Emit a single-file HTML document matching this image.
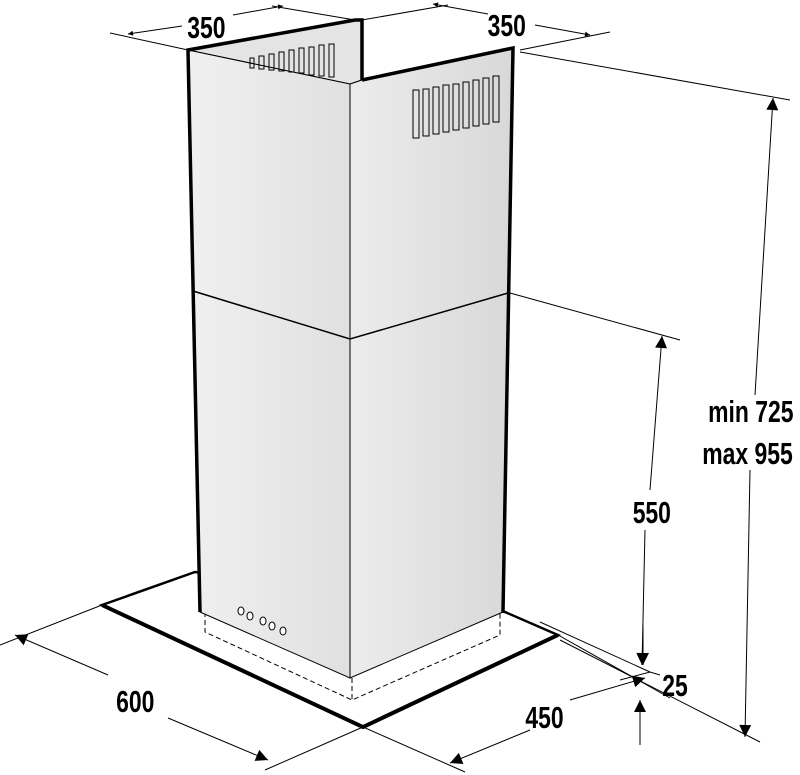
<!DOCTYPE html>
<html><head><style>
html,body{margin:0;padding:0;background:#fff}
svg{display:block}
text{font-family:"Liberation Sans",sans-serif;font-size:31px;font-weight:bold;fill:#000}
</style></head><body>
<svg width="800" height="775" viewBox="0 0 800 775" xmlns="http://www.w3.org/2000/svg">
<defs>
<linearGradient id="gl" x1="0" x2="1"><stop offset="0" stop-color="#f0f0f0"/><stop offset="1" stop-color="#e0e0e0"/></linearGradient>
<linearGradient id="gr" x1="0" x2="1"><stop offset="0" stop-color="#ececec"/><stop offset="1" stop-color="#d8d8d8"/></linearGradient>
<marker id="a" viewBox="0 0 10 10" refX="10" refY="5" markerWidth="26" markerHeight="12" markerUnits="userSpaceOnUse" orient="auto"><path d="M0,0L10,5L0,10z" fill="#000"/></marker>
<marker id="s" viewBox="0 0 10 10" refX="10" refY="5" markerWidth="16" markerHeight="5" markerUnits="userSpaceOnUse" orient="auto"><path d="M0,0L10,5L0,10z" fill="#000"/></marker>
</defs>
<!-- canopy -->
<path d="M102,605 L195,572 L505,612 L558,635 L363,727 Z" fill="#fff" stroke="#000" stroke-width="2.5"/>
<path d="M102,605 L363,727 L558,635" fill="none" stroke="#000" stroke-width="4"/>
<!-- dashed hidden -->
<path d="M205,612 L205,632 L352,700 L500,635 L500,612 M352,678 L352,700" fill="none" stroke="#000" stroke-width="1" stroke-dasharray="5,3"/>
<!-- inner back panel -->
<path d="M188,50 L355,20 L362,20 L362,80 L350,84 Z" fill="#e4e4e4" stroke="#000" stroke-width="1"/>
<!-- chimney -->
<path d="M188,50 L350,84 L350,678 L200,612 Z" fill="url(#gl)" stroke="#000" stroke-width="1"/>
<path d="M350,84 L362,80 L513,48 L503,612 L350,678 Z" fill="url(#gr)" stroke="#000" stroke-width="1"/>
<path d="M193,291 L350,339 L508,293" fill="none" stroke="#000" stroke-width="1.5"/>
<!-- thick outlines -->
<path d="M200,612 L188,50 L355,20 L362,20 L362,80" fill="none" stroke="#000" stroke-width="3.5"/>
<path d="M362,80 L513,48 L503,612" fill="none" stroke="#000" stroke-width="3.5"/>
<!-- vents -->
<g fill="none" stroke="#000" stroke-width="1">
<rect x="250" y="58" width="4" height="10"/><rect x="259" y="56" width="5" height="13"/><rect x="269" y="54" width="5" height="16"/><rect x="279" y="52" width="5" height="19"/><rect x="289" y="50" width="5" height="22"/><rect x="299" y="48" width="5" height="25"/><rect x="309" y="47" width="5" height="28"/><rect x="319" y="45" width="5" height="31"/><rect x="329" y="44" width="5" height="33"/>
<rect x="413" y="90" width="6" height="48"/><rect x="423" y="89" width="6" height="47"/><rect x="433" y="87" width="6" height="47"/><rect x="443" y="85" width="6" height="47"/><rect x="453" y="84" width="6" height="46"/><rect x="463" y="82" width="6" height="46"/><rect x="473" y="80" width="6" height="46"/><rect x="483" y="78" width="6" height="46"/><rect x="493" y="76" width="6" height="46"/>
</g>
<!-- knobs -->
<g fill="#fff" stroke="#000" stroke-width="1">
<ellipse cx="241" cy="611" rx="3" ry="4"/><ellipse cx="250" cy="616" rx="3" ry="4"/><ellipse cx="263" cy="621" rx="3" ry="4"/><ellipse cx="272" cy="626" rx="3" ry="4"/><ellipse cx="283" cy="631" rx="3" ry="4"/>
</g>
<!-- dimension lines -->
<g stroke="#000" stroke-width="1" fill="none">
<path d="M110,33 L188,50 M272,6 L355,20"/>
<path d="M182,26 L128,34" marker-end="url(#s)"/><path d="M233,15 L283,6" marker-end="url(#s)"/>
<path d="M362,20 L448,5 M520,50 L610,32"/>
<path d="M488,14 L433,4" marker-end="url(#s)"/><path d="M535,25 L590,35" marker-end="url(#s)"/>
<path d="M520,52 L790,100 M510,293 L680,340 M560,640 L760,742 M540,622 L650,672"/>
<path d="M755,395 L773,98" marker-end="url(#a)"/><path d="M750,470 L745,737" marker-end="url(#a)"/>
<path d="M650,490 L662,336" marker-end="url(#a)"/><path d="M645,530 L642,665" marker-end="url(#a)"/>
<path d="M643,625 L643,665" marker-end="url(#a)"/><path d="M640,745 L640,700" marker-end="url(#a)"/>
<path d="M620,680 L650,672 L660,675"/>
<path d="M102,605 L0,645 M363,727 L265,770"/>
<path d="M108,675 L15,635" marker-end="url(#a)"/><path d="M168,718 L268,760" marker-end="url(#a)"/>
<path d="M363,727 L465,772 M558,635 L670,698"/>
<path d="M570,700 L645,678" marker-end="url(#a)"/><path d="M530,730 L450,763" marker-end="url(#a)"/>
</g>
<g transform="scale(0.72,1)" style="font-weight:normal">
</g>
<g transform="scale(0.74,1)">
<text x="253" y="38">350</text>
<text x="659" y="36">350</text>
<text x="957" y="422">min 725</text>
<text x="949" y="464">max 955</text>
<text x="855" y="523">550</text>
<text x="895" y="696">25</text>
<text x="157" y="712">600</text>
<text x="710" y="728">450</text>
</g>
</svg>
</body></html>
